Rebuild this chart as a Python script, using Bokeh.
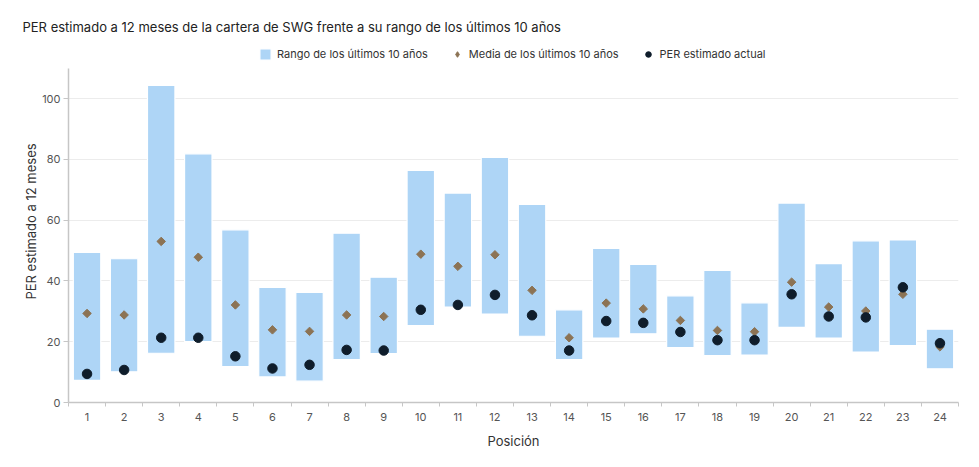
import math
from bokeh.plotting import figure
from bokeh.models import Range1d, FixedTicker, Legend, LegendItem, ColumnDataSource
from bokeh.embed import file_html
from bokeh.resources import INLINE

posiciones = list(range(1, 25))
rango_min = [7.3, 10.1, 16.2, 20.0, 11.8, 8.4, 7.0, 14.1, 16.1, 25.3, 31.4, 29.1,
             21.8, 14.1, 21.2, 22.6, 18.1, 15.4, 15.6, 24.7, 21.2, 16.6, 18.7, 11.1]
rango_max = [49.4, 47.3, 104.3, 81.8, 56.8, 37.9, 36.2, 55.7, 41.2, 76.4, 68.9, 80.6,
             65.2, 30.5, 50.7, 45.4, 35.1, 43.5, 32.8, 65.6, 45.7, 53.2, 53.5, 24.1]
media_10 = [29.3, 28.8, 53.0, 47.8, 32.1, 23.9, 23.4, 28.8, 28.3, 48.8, 44.8, 48.6,
            36.9, 21.3, 32.7, 30.8, 27.0, 23.7, 23.3, 39.6, 31.4, 30.1, 35.6, 18.3]
per_actual = [9.4, 10.7, 21.3, 21.3, 15.2, 11.2, 12.4, 17.3, 17.1, 30.5, 32.1, 35.4,
              28.7, 17.1, 26.8, 26.2, 23.2, 20.5, 20.5, 35.6, 28.3, 28.0, 37.9, 19.5]
y_ticks = [0, 20, 40, 60, 80, 100]
y_axis_max = 110

titulo = "PER estimado a 12 meses de la cartera de SWG frente a su rango de los últimos 10 años"
etiqueta_rango = "Rango de los últimos 10 años"
etiqueta_media = "Media de los últimos 10 años"
etiqueta_actual = "PER estimado actual"

FONT = "Inter"
C_BAR = "#aed5f6"
C_MED = "#8c7354"
C_ACT = "#0f1d2b"

src = ColumnDataSource(data=dict(x=posiciones, lo=rango_min, hi=rango_max,
                                 media=media_10, actual=per_actual))

p = figure(width=963, height=451, output_backend="svg", toolbar_location=None,
           x_range=Range1d(0.5, 24.5), y_range=Range1d(0, 119.1),
           min_border_left=68, min_border_right=5, min_border_bottom=49,
           min_border_top=40, title=titulo)

p.title.text_font = FONT
p.title.text_font_size = "13px"
p.title.text_font_style = "normal"
p.title.text_color = "#222222"
p.title.align = "left"
p.title.offset = -46
p.title.standoff = 11

r_bar = p.vbar(x="x", bottom="lo", top="hi", width=0.74, source=src,
               fill_color=C_BAR, line_color="white", line_width=1.2)
r_med = p.scatter(x="x", y="media", source=src, marker="square", size=6,
                  angle=math.pi / 4, fill_color=C_MED, line_color=C_MED)
r_act = p.scatter(x="x", y="actual", source=src, marker="circle", size=9.5,
                  fill_color=C_ACT, line_color=C_ACT)

# legend-only glyph for the diamond (legend ignores marker angle); NaN => not drawn
leg_src = ColumnDataSource(data=dict(x=[float("nan")], y=[float("nan")]))
r_med_leg = p.scatter(x="x", y="y", source=leg_src, marker="diamond", size=11,
                      fill_color=C_MED, line_color=C_MED)

legend = Legend(items=[LegendItem(label=etiqueta_rango, renderers=[r_bar]),
                       LegendItem(label=etiqueta_media, renderers=[r_med_leg]),
                       LegendItem(label=etiqueta_actual, renderers=[r_act])],
                orientation="horizontal", location=(190, 341))
legend.label_text_font = FONT
legend.label_text_font_size = "11px"
legend.label_text_color = "#333333"
legend.glyph_width = 14
legend.glyph_height = 14
legend.label_height = 14
legend.label_standoff = 5
legend.spacing = 22
legend.padding = 2
legend.margin = 0
legend.border_line_color = None
legend.background_fill_alpha = 0
p.add_layout(legend)

# axes
p.xgrid.grid_line_color = None
p.ygrid.grid_line_color = "#ececec"
p.ygrid.grid_line_width = 1
p.yaxis.ticker = FixedTicker(ticks=y_ticks)
p.yaxis.bounds = (0, y_axis_max)
p.xaxis.ticker = FixedTicker(ticks=posiciones,
                             minor_ticks=[v - 0.5 for v in posiciones] + [24.5])

for ax in (p.xaxis[0], p.yaxis[0]):
    ax.axis_line_color = "#c6c6c6"
    ax.axis_line_width = 1.5
    ax.major_label_text_font = FONT
    ax.major_label_text_font_size = "11px"
    ax.major_label_text_color = "#555555"
    ax.axis_label_text_font = FONT
    ax.axis_label_text_font_size = "13px"
    ax.axis_label_text_font_style = "normal"
    ax.axis_label_text_color = "#333333"

p.yaxis.axis_label = "PER estimado a 12 meses"
p.yaxis.major_tick_line_color = "#c6c6c6"
p.yaxis.major_tick_out = 5
p.yaxis.major_tick_in = 0
p.yaxis.minor_tick_line_color = None
p.yaxis.major_label_standoff = 3
p.yaxis.axis_label_standoff = 0

p.xaxis.axis_label = "Posición"
p.xaxis.major_tick_line_color = None
p.xaxis.major_tick_out = 0
p.xaxis.major_tick_in = 0
p.xaxis.minor_tick_line_color = "#c6c6c6"
p.xaxis.minor_tick_out = 4
p.xaxis.minor_tick_in = 0
p.xaxis.major_label_standoff = 6
p.xaxis.axis_label_standoff = 9

p.outline_line_color = None

open("out.html", "w").write(file_html(p, INLINE))
